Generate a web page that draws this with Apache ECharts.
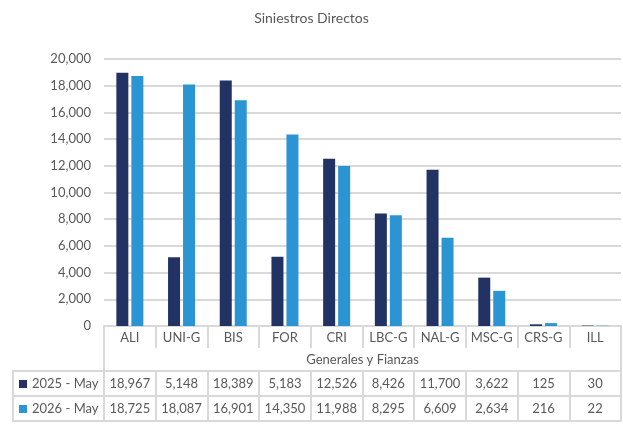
<!DOCTYPE html>
<html><head><meta charset="utf-8">
<script src="https://cdn.jsdelivr.net/npm/echarts@6/dist/echarts.min.js"></script>
<style>html,body{margin:0;padding:0;background:#fff}#c{width:623px;height:424px}</style>
</head><body><div id="c"></div>
<script>
var categories = ['ALI','UNI-G','BIS','FOR','CRI','LBC-G','NAL-G','MSC-G','CRS-G','ILL'];
var groupLabel = ['Generales y Fianzas'];
var seriesNames = ['2025 - May','2026 - May'];
var values2025 = [18967,5148,18389,5183,12526,8426,11700,3622,125,30];
var values2026 = [18725,18087,16901,14350,11988,8295,6609,2634,216,22];
var yTicks = {min:0, max:20000, interval:2000};

var fmt = function(v){ return Number(v).toLocaleString('en-US'); };
var txt = '#595959', line = '#d9d9d9', font = 'Lato';
var chart = echarts.init(document.getElementById('c'));
function rowAxis(offset, vals, tickLen, margin){
  return {
    type:'category', data: categories, position:'bottom', offset: offset,
    axisLine:{show:true, lineStyle:{color:line, width:2}},
    axisTick:{show:true, interval:0, length:tickLen, lineStyle:{color:line, width:2}},
    axisLabel:{show:true, interval:0, margin:margin, color:txt, fontFamily:font, fontSize:13,
      formatter:function(v, i){ return vals ? fmt(vals[i]) : v; }},
    splitLine:{show:false}
  };
}
chart.setOption({
  animation:false,
  title:{text:'Siniestros Directos', left:'center', top:6,
    textStyle:{color:txt, fontFamily:font, fontSize:14, fontWeight:'normal'}},
  grid:{left:104, right:2, top:59, bottom:98, containLabel:false},
  legend:{orient:'vertical', left:19, top:376, padding:0, itemWidth:8, itemHeight:8, itemGap:9, icon:'rect',
    data:seriesNames, textStyle:{color:txt, fontFamily:font, fontSize:13, lineHeight:16}},
  xAxis:[
    rowAxis(0, null, 22, 5),
    {type:'category', data:groupLabel, position:'bottom', offset:22,
      axisLine:{show:false}, axisTick:{show:true, interval:0, length:23, lineStyle:{color:line, width:2}},
      axisLabel:{show:true, margin:5, color:txt, fontFamily:font, fontSize:13}},
    rowAxis(45, values2025, 25, 6),
    rowAxis(70, values2026, 25, 6),
    {type:'category', data:categories, position:'bottom', offset:95,
      axisLine:{show:true, lineStyle:{color:line, width:2}}, axisTick:{show:false}, axisLabel:{show:false}}
  ],
  yAxis:{type:'value', min:yTicks.min, max:yTicks.max, interval:yTicks.interval,
    axisLine:{show:false}, axisTick:{show:false},
    axisLabel:{margin:13, color:txt, fontFamily:font, fontSize:13, formatter:fmt},
    splitLine:{lineStyle:{color:line, width:2}}},
  graphic:[
    {type:'line', shape:{x1:13, y1:371, x2:104, y2:371}, style:{stroke:line, lineWidth:2}},
    {type:'line', shape:{x1:13, y1:396, x2:104, y2:396}, style:{stroke:line, lineWidth:2}},
    {type:'line', shape:{x1:13, y1:421, x2:104, y2:421}, style:{stroke:line, lineWidth:2}},
    {type:'line', shape:{x1:13, y1:370, x2:13, y2:422}, style:{stroke:line, lineWidth:2}}
  ],
  series:[
    {name:seriesNames[0], type:'bar', data:values2025, barWidth:12, barGap:'25%', xAxisIndex:0,
      itemStyle:{color:'#223263'}},
    {name:seriesNames[1], type:'bar', data:values2026, barWidth:12, barGap:'25%', xAxisIndex:0,
      itemStyle:{color:'#2b95d3'}}
  ]
});
</script></body></html>
